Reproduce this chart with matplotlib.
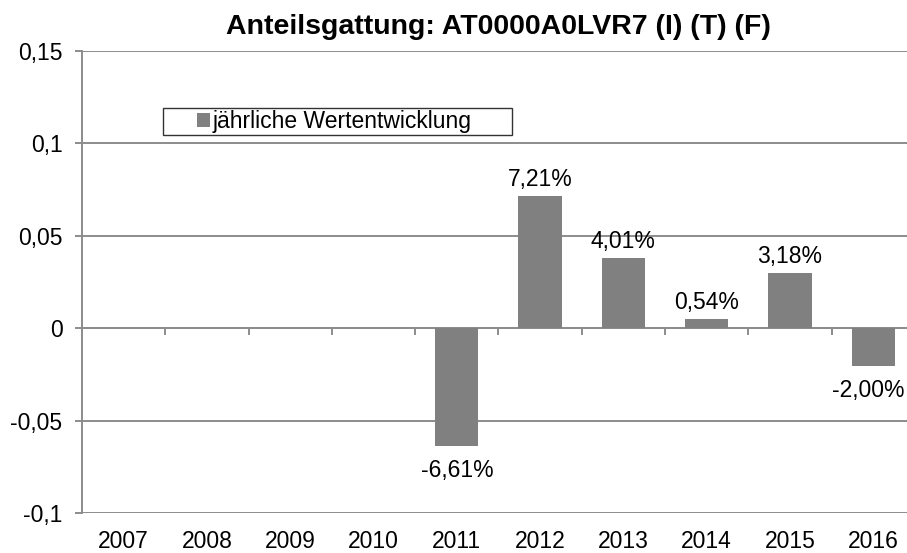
import numpy as np
import matplotlib
matplotlib.use('Agg')
import matplotlib.pyplot as plt
from matplotlib.ticker import FuncFormatter, FixedLocator
from matplotlib.legend_handler import HandlerPatch
from matplotlib.patches import Rectangle

plt.rcParams['font.family'] = ['Liberation Sans', 'DejaVu Sans']

# Daten
jahre = ['2007', '2008', '2009', '2010', '2011', '2012', '2013', '2014', '2015', '2016']
wertentwicklung = [np.nan, np.nan, np.nan, np.nan, -0.0636, 0.0716, 0.0381, 0.0050, 0.0300, -0.0202]
beschriftungen = ['', '', '', '', '-6,61%', '7,21%', '4,01%', '0,54%', '3,18%', '-2,00%']
y_ticks = [-0.1, -0.05, 0, 0.05, 0.1, 0.15]

grau = '#808080'
linie = '#8c8c8c'
fs = 16.5

fig = plt.figure(figsize=(9.07, 5.53), dpi=100)
ax = fig.add_axes([0.0904, 0.0718, 0.9184, 0.8365])

x = np.arange(len(jahre))
bars = ax.bar(x, wertentwicklung, width=0.52, color=grau, zorder=3)

ax.set_xlim(-0.5, len(jahre) - 0.5)
ax.set_ylim(-0.1, 0.15)
ax.set_yticks(y_ticks)
ax.yaxis.set_major_formatter(FuncFormatter(lambda v, p: f'{v:g}'.replace('.', ',')))
ax.yaxis.grid(True, color=linie, linewidth=1.4, zorder=0)

for s in ['top', 'right', 'bottom']:
    ax.spines[s].set_visible(False)
ax.spines['left'].set_color(linie)
ax.spines['left'].set_linewidth(1.4)

ax.set_xticks(x)
ax.set_xticklabels(jahre)
ax.tick_params(axis='x', length=0, pad=12, labelsize=fs)
ax.tick_params(axis='y', length=5, width=1.4, color=linie, pad=9, labelsize=fs)

# Nulllinie mit Teilstrichen zwischen den Kategorien
sec = ax.secondary_xaxis(0.4)
sec.spines['bottom'].set_color(linie)
sec.spines['bottom'].set_linewidth(1.4)
sec.xaxis.set_major_locator(FixedLocator(np.arange(0.5, len(jahre) - 0.5, 1)))
sec.tick_params(axis='x', length=5, width=1.4, color=linie, labelbottom=False)

# Datenbeschriftungen
for xi, val, txt in zip(x, wertentwicklung, beschriftungen):
    if np.isnan(val):
        continue
    dy = 12 if val >= 0 else -18
    dx = -4 if xi == x[-1] else 0
    ax.annotate(txt, (xi, val), xytext=(dx, dy), textcoords='offset points',
                ha='center', va='center', fontsize=fs, zorder=4)


# quadratisches Legendensymbol, rechts im Symbolbereich
def quadrat(legend, orig_handle, xdescent, ydescent, width, height, fontsize):
    s = height
    return Rectangle((width - xdescent - s, -ydescent), s, s)


proxy = Rectangle((0, 0), 1, 1, facecolor=grau, edgecolor='none')
leg = ax.legend([proxy], ['jährliche Wertentwicklung'],
                loc='upper left', bbox_to_anchor=(0.097, 0.876, 0.419, 0), mode='expand',
                fontsize=fs, frameon=True, fancybox=False, borderpad=0.08,
                handlelength=2.0, handleheight=0.55, handletextpad=0.1, borderaxespad=0,
                handler_map={Rectangle: HandlerPatch(patch_func=quadrat)})
leg.get_frame().set_edgecolor('black')
leg.get_frame().set_linewidth(1.0)

ax.set_title('Anteilsgattung: AT0000A0LVR7 (I) (T) (F)', fontsize=20.5, fontweight='bold', pad=12)

fig.savefig('out.png', dpi=100)
